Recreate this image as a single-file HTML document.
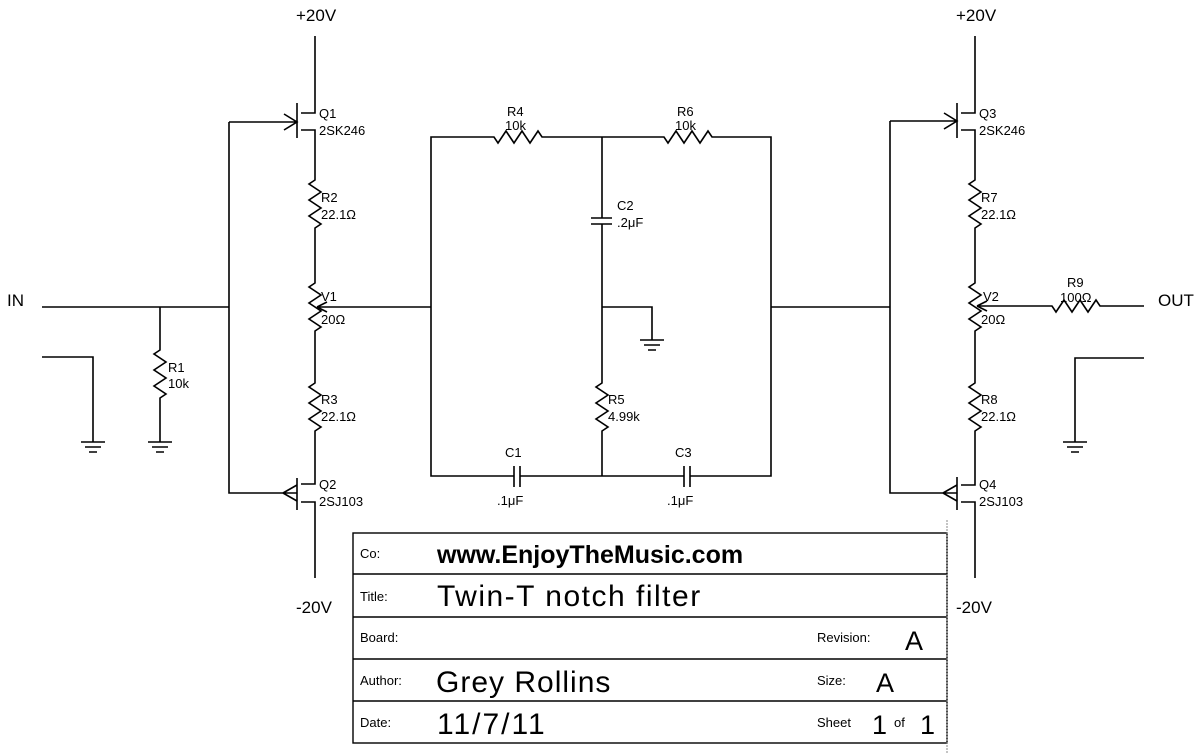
<!DOCTYPE html>
<html><head><meta charset="utf-8"><style>
html,body{margin:0;padding:0;background:#fff;}
svg{display:block;}
text{font-family:"Liberation Sans",sans-serif;fill:#000;}
.s{font-size:13px;}
.m{font-size:17px;}
</style></head><body>
<svg width="1200" height="753" viewBox="0 0 1200 753" xmlns="http://www.w3.org/2000/svg">
<g stroke="#000" stroke-width="1.6" fill="none">
<!-- LEFT SIDE -->
<path d="M315,36 V113 H301"/>
<path d="M297,103 V138"/>
<path d="M301,130 H315 V180 l-6,4 l12,8 l-12,8 l12,8 l-12,8 l12,8 l-6,4 V283 l-6,4 l12,8 l-12,8 l12,8 l-12,8 l12,8 l-6,4 V383 l-6,4 l12,8 l-12,8 l12,8 l-12,8 l12,8 l-6,4 V484 H301"/>
<path d="M297,478 V510"/>
<path d="M301,502 H315 V578"/>
<path d="M229,122 H297 M284,114 L297,122 L284,130"/>
<path d="M229,122 V493 H297 M283,493 L297,485 M283,493 L297,501"/>
<path d="M42,307 H229"/>
<path d="M160,307 V350 l-6,4 l12,8 l-12,8 l12,8 l-12,8 l12,8 l-6,4 V442"/>
<path d="M148,442 H172 M152,447 H168 M156,452 H164"/>
<path d="M42,357 H93 V442 M81,442 H105 M85,447 H101 M89,452 H97"/>
<!-- V1 wiper -->
<path d="M317,307 H431 M317,307 l10,-5 M317,307 l10,5"/>
<!-- MIDDLE -->
<path d="M431,307 V476 H514 M520,476 H684 M690,476 H771 V137 H712 l-4,-6 l-8,12 l-8,-12 l-8,12 l-8,-12 l-8,12 l-4,-6 H542 l-4,-6 l-8,12 l-8,-12 l-8,12 l-8,-12 l-8,12 l-4,-6 H431 V307"/>
<path d="M514,466 V487 M520,466 V487 M684,466 V487 M690,466 V487"/>
<path d="M602,137 V218 M591,218 H612 M591,224 H612 M602,224 V383 l-6,4 l12,8 l-12,8 l12,8 l-12,8 l12,8 l-6,4 V476"/>
<path d="M602,307 H652 V340 M640,340 H664 M644,345 H660 M648,350 H656"/>
<path d="M771,307 H890"/>
<!-- RIGHT SIDE -->
<path d="M975,36 V113 H961"/>
<path d="M957,103 V138"/>
<path d="M961,130 H975 V180 l-6,4 l12,8 l-12,8 l12,8 l-12,8 l12,8 l-6,4 V283 l-6,4 l12,8 l-12,8 l12,8 l-12,8 l12,8 l-6,4 V383 l-6,4 l12,8 l-12,8 l12,8 l-12,8 l12,8 l-6,4 V485 H961"/>
<path d="M957,477 V510"/>
<path d="M961,502 H975 V578"/>
<path d="M890,121 H957 M944,113 L957,121 L944,129"/>
<path d="M890,121 V493 H957 M943,493 L957,485 M943,493 L957,501"/>
<path d="M977,306 H1052 l4,6 l8,-12 l8,12 l8,-12 l8,12 l8,-12 l4,6 H1144 M977,306 l10,-5 M977,306 l10,5"/>
<path d="M1144,358 H1075 V442 M1063,442 H1087 M1067,447 H1083 M1071,452 H1079"/>
<!-- TITLE BLOCK -->
<rect x="353" y="533" width="594" height="210" stroke-width="1.4"/>
<path d="M353,574 H947 M353,617 H947 M353,659 H947 M353,701 H947" stroke-width="1.4"/>
<path d="M947,520 V753" stroke="#888" stroke-width="1" stroke-dasharray="2,1"/>
</g>
<!-- labels -->
<text class="m" x="296" y="21">+20V</text>
<text class="m" x="956" y="21">+20V</text>
<text class="m" x="296" y="613">-20V</text>
<text class="m" x="956" y="613">-20V</text>
<text class="m" x="7" y="306">IN</text>
<text class="m" x="1158" y="306">OUT</text>
<text class="s" x="319" y="118">Q1</text><text class="s" x="319" y="135">2SK246</text>
<text class="s" x="321" y="202">R2</text><text class="s" x="321" y="219">22.1Ω</text>
<text class="s" x="321" y="301">V1</text><text class="s" x="321" y="324">20Ω</text>
<text class="s" x="321" y="404">R3</text><text class="s" x="321" y="421">22.1Ω</text>
<text class="s" x="319" y="489">Q2</text><text class="s" x="319" y="506">2SJ103</text>
<text class="s" x="168" y="372">R1</text><text class="s" x="168" y="388">10k</text>
<text class="s" x="507" y="116">R4</text><text class="s" x="505" y="130">10k</text>
<text class="s" x="677" y="116">R6</text><text class="s" x="675" y="130">10k</text>
<text class="s" x="617" y="210">C2</text><text class="s" x="617" y="227">.2μF</text>
<text class="s" x="608" y="404">R5</text><text class="s" x="608" y="421">4.99k</text>
<text class="s" x="505" y="457">C1</text><text class="s" x="497" y="505">.1μF</text>
<text class="s" x="675" y="457">C3</text><text class="s" x="667" y="505">.1μF</text>
<text class="s" x="979" y="118">Q3</text><text class="s" x="979" y="135">2SK246</text>
<text class="s" x="981" y="202">R7</text><text class="s" x="981" y="219">22.1Ω</text>
<text class="s" x="983" y="301">V2</text><text class="s" x="981" y="324">20Ω</text>
<text class="s" x="981" y="404">R8</text><text class="s" x="981" y="421">22.1Ω</text>
<text class="s" x="979" y="489">Q4</text><text class="s" x="979" y="506">2SJ103</text>
<text class="s" x="1067" y="287">R9</text><text class="s" x="1060" y="302">100Ω</text>
<!-- title block text -->
<text class="s" x="360" y="558">Co:</text>
<text x="437" y="563" style="font-size:25px;font-weight:bold">www.EnjoyTheMusic.com</text>
<text class="s" x="360" y="601">Title:</text>
<text x="437" y="606" style="font-size:30px;letter-spacing:1.5px">Twin-T notch filter</text>
<text class="s" x="360" y="642">Board:</text>
<text class="s" x="817" y="642">Revision:</text>
<text x="905" y="650" style="font-size:27px">A</text>
<text class="s" x="360" y="685">Author:</text>
<text x="436" y="692" style="font-size:30px;letter-spacing:1px">Grey Rollins</text>
<text class="s" x="817" y="685">Size:</text>
<text x="876" y="692" style="font-size:27px">A</text>
<text class="s" x="360" y="727">Date:</text>
<text x="437" y="734" style="font-size:30px;letter-spacing:2px">11/7/11</text>
<text class="s" x="817" y="727">Sheet</text>
<text x="872" y="734" style="font-size:27px">1</text>
<text class="s" x="894" y="727">of</text>
<text x="920" y="734" style="font-size:27px">1</text>
</svg>
</body></html>
